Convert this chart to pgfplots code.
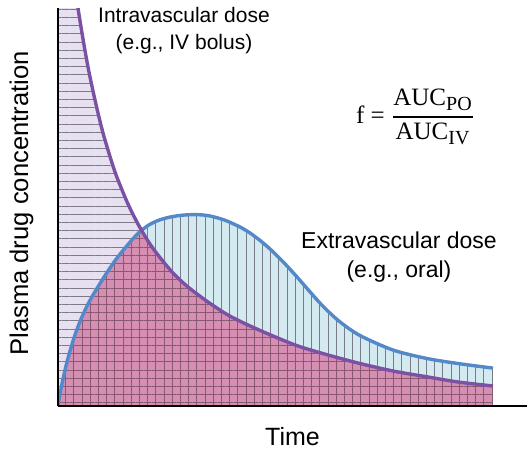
\documentclass[border=0pt]{standalone}
\usepackage{fontspec}
\setmainfont{Liberation Sans}
\newfontfamily\seriffont{Liberation Serif}
\usepackage{amsmath}
\usepackage{pgfplots}
\pgfplotsset{compat=1.18}
\usetikzlibrary{patterns.meta}

\definecolor{ivline}{RGB}{123,82,163}
\definecolor{poline}{RGB}{84,137,201}
\definecolor{lav}{RGB}{230,224,241}
\definecolor{cyanfill}{RGB}{212,234,241}
\definecolor{pinkfill}{RGB}{214,143,178}
\definecolor{hatchgray}{RGB}{125,122,135}
\definecolor{hatchpink}{RGB}{135,90,112}

% data in pixel-like units: x = px - 58, y = 406 - py
\pgfplotstableread{
x y
0 569
5 518
10 473
15 433
20 398
25 367
30 339
35 315
40 293
45 273
50 256
55 240
60 226
70 202
80 182
90 165
100 151
115 133
130 119
150 104
170 91
190 81
215 70
240 60
270 51
300 43
335 35
370 29
400 24
435 20
}\ivdata

\pgfplotstableread{
x y
0 0
2 12
5 27
8 40
12 55
18 74
25 91.5
33 107.5
42 122.5
50 135
59 148
70 161.5
80 172.5
90 180.5
100 185.5
110 188.5
120 190.3
128 191.1
137 191.4
145 191
152 190
160 188
169 185
182 179
192 173
202 165.6
213 156.1
225 144.3
237 131.3
249 117.6
265 99.7
282 84.1
302 70.5
335 56
369 47.5
402 42.2
435 37.9
}\podata

% overlap: the lower of the two curves
\pgfplotstableread{
x y
0 0
2 12
5 27
8 40
12 55
18 74
25 91.5
33 107.5
42 122.5
50 135
59 148
70 161.5
80 172.5
83.8 175.5
90 165
100 151
115 133
130 119
150 104
170 91
190 81
215 70
240 60
270 51
300 43
335 35
370 29
400 24
435 20
}\mindata

\begin{document}
\begin{tikzpicture}
\useasboundingbox (-29pt,-23pt) rectangle (234.5pt,203pt);
\begin{axis}[
  x=0.5pt, y=0.5pt,
  xmin=0, xmax=469,
  ymin=0, ymax=398,
  axis lines=left,
  axis line style={-, line width=1.2pt, black},
  axis on top,
  xtick=\empty, ytick=\empty,
  clip mode=individual,
  xlabel={Time},
  ylabel={Plasma drug concentration},
  xlabel style={at={(axis description cs:0.5,-0.078)}, anchor=center, font=\fontsize{12.5}{14}\selectfont},
  ylabel style={at={(axis description cs:-0.078,0.509)}, anchor=center, font=\fontsize{12.8}{14}\selectfont},
]

\addplot[draw=none, fill=lav, smooth,
  postaction={pattern color=hatchgray, pattern={Lines[angle=0, distance=4.1pt, line width=0.45pt]}}]
  table {\ivdata} \closedcycle;

\addplot[draw=none, fill=cyanfill, smooth,
  postaction={pattern color=hatchgray, pattern={Lines[angle=90, distance=4.1pt, line width=0.45pt]}}]
  table {\podata} \closedcycle;

\addplot[draw=none, fill=pinkfill,
  postaction={pattern color=hatchpink, pattern={Hatch[angle=0, distance=4.1pt, line width=0.45pt]}}]
  table {\mindata} \closedcycle;

\addplot[poline, line width=1.7pt, smooth] table {\podata};
\addplot[ivline, line width=1.7pt, smooth] table {\ivdata};

\node[align=center, font=\fontsize{10.5}{13.5}\selectfont] at (axis cs:126,375)
  {Intravascular dose\\(e.g., IV bolus)};
\node[align=center, font=\fontsize{11.5}{14.5}\selectfont] at (axis cs:341,149)
  {Extravascular dose\\(e.g., oral)};
\node[anchor=west, font=\seriffont\fontsize{12.5}{14}\selectfont] at (axis cs:291,289)
  {f = $\genfrac{}{}{0.9pt}{0}{\text{AUC}_{\mbox{\fontsize{10}{11}\selectfont PO}}}{\text{AUC}_{\mbox{\fontsize{10}{11}\selectfont IV}}}$};
\end{axis}
\end{tikzpicture}
\end{document}
